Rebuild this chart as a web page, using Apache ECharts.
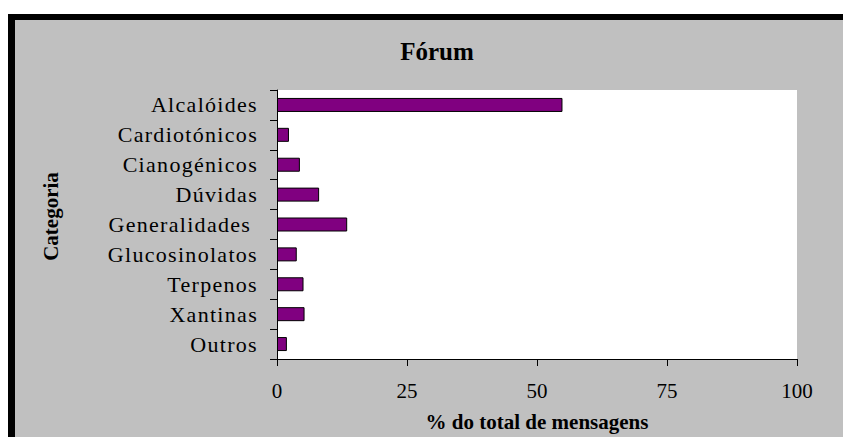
<!DOCTYPE html>
<html>
<head>
<meta charset="utf-8">
<script src="https://cdn.jsdelivr.net/npm/echarts@6/dist/echarts.min.js"></script>
<style>
  body { margin: 0; background: #fff; }
  #frame {
    position: absolute; left: 8px; top: 14px; right: 0; bottom: 0;
    background: #c0c0c0;
    border-left: 7px solid #000;
    border-top: 6px solid #000;
  }
  #main { position: absolute; left: 0; top: 0; width: 843px; height: 437px; }
  /* spread out the category labels like the old chart renderer did */
  #main text[text-anchor="end"] { letter-spacing: 1.3px; }
</style>
</head>
<body>
<div id="frame"></div>
<div id="main"></div>
<script>
// categories, top to bottom
var categorias = ["Alcalóides", "Cardiotónicos", "Cianogénicos", "Dúvidas",
  "Generalidades ", "Glucosinolatos", "Terpenos", "Xantinas", "Outros"];
// % do total de mensagens
var percentagens = [54.9, 2.3, 4.4, 8.1, 13.5, 3.8, 5.1, 5.3, 1.9];
var eixoX = { min: 0, max: 100, interval: 25 };

var chart = echarts.init(document.getElementById("main"), null, { renderer: "svg" });
var serif = "'Liberation Serif', 'Times New Roman', serif";

var option = {
  animation: false,
  backgroundColor: "transparent",
  title: {
    text: "Fórum",
    left: 432,
    top: 34,
    textAlign: "center",
    textStyle: { fontFamily: serif, fontWeight: "bold", fontSize: 25, color: "#000" }
  },
  grid: {
    left: 277, right: 46, top: 90, bottom: 77,
    show: true, backgroundColor: "#fff", borderWidth: 0
  },
  xAxis: {
    type: "value",
    min: eixoX.min, max: eixoX.max, interval: eixoX.interval,
    name: "% do total de mensagens",
    nameLocation: "middle",
    nameGap: 52,
    nameTextStyle: { fontFamily: serif, fontWeight: "bold", fontSize: 21, color: "#000" },
    axisLine: { show: true, lineStyle: { color: "#000", width: 1 } },
    axisTick: { show: true, length: 7, lineStyle: { color: "#000" } },
    axisLabel: { fontFamily: serif, fontSize: 21, color: "#000", margin: 21 },
    splitLine: { show: false }
  },
  yAxis: {
    type: "category",
    data: categorias,
    inverse: true,
    name: "Categoria",
    nameLocation: "middle",
    nameRotate: 90,
    nameGap: 216,
    nameTextStyle: { fontFamily: serif, fontWeight: "bold", fontSize: 21, color: "#000", padding: [0, 0, 0, 16] },
    axisLine: { show: true, lineStyle: { color: "#000", width: 1 } },
    axisTick: { show: true, length: 7, alignWithLabel: false, lineStyle: { color: "#000" } },
    axisLabel: { fontFamily: serif, fontSize: 22, color: "#000", margin: 19 },
    splitLine: { show: false }
  },
  series: [{
    type: "bar",
    data: percentagens,
    barWidth: 14,
    itemStyle: { color: "#800080", borderColor: "#000", borderWidth: 1 }
  }]
};

chart.setOption(option);
</script>
</body>
</html>
